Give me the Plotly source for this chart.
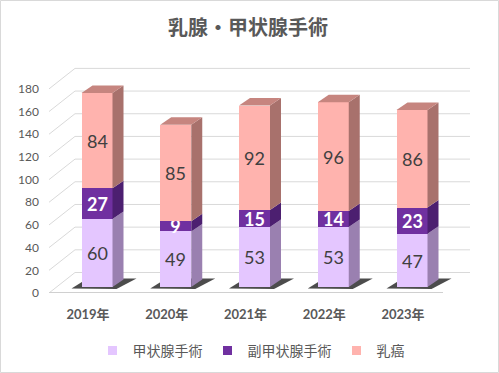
import plotly.graph_objects as go

# ---------------- data ----------------
years = ['2019年', '2020年', '2021年', '2022年', '2023年']
thyroid = [60, 49, 53, 53, 47]          # 甲状腺手術
parathyroid = [27, 9, 15, 14, 23]       # 副甲状腺手術
breast = [84, 85, 92, 96, 86]           # 乳癌
series_names = ['甲状腺手術', '副甲状腺手術', '乳癌']
y_ticks = [0, 20, 40, 60, 80, 100, 120, 140, 160, 180]
title_text = '乳腺・甲状腺手術'

# ---------------- style ----------------
FONT = "Lato, 'Noto Sans CJK JP', sans-serif"
CJK = "'Noto Sans CJK JP', Lato, sans-serif"
TXT = '#595959'
GRID = '#D9D9D9'
front_cols = ['#E4C6FF', '#7030A0', '#FFB3AE']
side_cols = ['#9A80B0', '#4C1F70', '#A8716C']
top_col = '#C6857F'
label_cols = ['#404040', '#FFFFFF', '#404040']
label_weight = ['normal', 'bold', 'normal']

# ---------------- pseudo-3D geometry (pixels) ----------------
W, H = 499, 373
ML, MR, MT, MB = 49, 25, 50, 80
PX_CAT = 78.75        # px per category
C0 = 97.0             # px of first bar centre
K = 1.134             # px per value unit
BAR_BASE = 287.0      # px of bar base (bars stand a bit back)
FRONT_BASE = 293.0    # px of front floor edge
WALL_DX, WALL_DY = 26.0, -20.5
BAR_DX, BAR_DY = 11.0, -7.5
BAR_W_PX = 31.0
FRONT_RIGHT = 443.0
BACK_RIGHT = 470.0

def px_x(px):
    return (px - C0) / PX_CAT

def px_y(py):
    return (BAR_BASE - py) / K

plot_left, plot_right = ML, W - MR
plot_top, plot_bottom = MT, H - MB
xr = [px_x(plot_left), px_x(plot_right)]
yr = [px_y(plot_bottom), px_y(plot_top)]
y2r = [(FRONT_BASE - plot_bottom) / K, (FRONT_BASE - plot_top) / K]

xs = list(range(len(years)))
bw = BAR_W_PX / PX_CAT
ddx = BAR_DX / PX_CAT
ddy = -BAR_DY / K

def path(pts):
    return 'M ' + ' L '.join(f'{a:.4f},{b:.4f}' for a, b in pts) + ' Z'

shapes = []
# gridlines: side wall diagonals + back wall horizontals
for v in y_ticks:
    pf = FRONT_BASE - v * K
    pb = pf + WALL_DY
    shapes.append(dict(type='line', xref='x', yref='y', layer='below',
                       x0=px_x(ML), y0=px_y(pf), x1=px_x(ML + WALL_DX), y1=px_y(pb),
                       line=dict(color=GRID, width=1)))
    shapes.append(dict(type='line', xref='x', yref='y', layer='below',
                       x0=px_x(ML + WALL_DX), y0=px_y(pb), x1=px_x(BACK_RIGHT), y1=px_y(pb),
                       line=dict(color=GRID, width=1)))
# front floor edge
shapes.append(dict(type='line', xref='x', yref='y', layer='below',
                   x0=px_x(ML), y0=px_y(FRONT_BASE - 0.3), x1=px_x(FRONT_RIGHT), y1=px_y(FRONT_BASE - 0.3),
                   line=dict(color='#D0D0D0', width=1.5)))

# shadows under bars
for i in xs:
    L = C0 + i * PX_CAT - BAR_W_PX / 2
    R = L + BAR_W_PX
    B = BAR_BASE
    pts = [(L - 10, B + 1.5), (R + 4, B + 2), (R + 24, B - 8.5), (L + 6, B - 8.5)]
    shapes.append(dict(type='path', xref='x', yref='y', layer='below',
                       path=path([(px_x(a), px_y(b)) for a, b in pts]),
                       fillcolor='rgba(45,45,45,0.85)', line=dict(width=0)))

# side and top faces of each stacked segment
series = [thyroid, parathyroid, breast]
for i in xs:
    base = 0
    R = i + bw / 2
    L = i - bw / 2
    for s, vals in enumerate(series):
        top = base + vals[i]
        shapes.append(dict(type='path', xref='x', yref='y', layer='above',
                           path=path([(R, base), (R + ddx, base + ddy), (R + ddx, top + ddy), (R, top)]),
                           fillcolor=side_cols[s], line=dict(width=0)))
        base = top
    shapes.append(dict(type='path', xref='x', yref='y', layer='above',
                       path=path([(L, base), (L + ddx, base + ddy), (R + ddx, base + ddy), (R, base)]),
                       fillcolor=top_col, line=dict(width=0)))

# chart border
pw = plot_right - plot_left
ph = plot_bottom - plot_top
shapes.append(dict(type='rect', xref='paper', yref='paper', layer='above',
                   x0=(0.5 - ML) / pw, x1=(W - 0.5 - ML) / pw,
                   y0=(plot_bottom - (H - 0.5)) / ph, y1=(plot_bottom - 0.5) / ph,
                   line=dict(color=GRID, width=1), fillcolor='rgba(0,0,0,0)'))

fig = go.Figure()
for s, vals in enumerate(series):
    fig.add_trace(go.Bar(
        x=xs, y=vals, width=bw, name=series_names[s], showlegend=False,
        marker=dict(color=front_cols[s], line=dict(width=0)),
        text=vals, texttemplate='%{text}', textposition='inside',
        insidetextanchor='middle', textangle=0, constraintext='none',
        textfont=dict(family=FONT, size=18, color=label_cols[s], weight=label_weight[s]),
        hoverinfo='skip'))

# legend entries (small square markers) on the tick-label axis
for s in range(3):
    fig.add_trace(go.Scatter(
        x=[None], y=[None], mode='markers', name=series_names[s], yaxis='y2',
        marker=dict(symbol='square', size=9, color=front_cols[s]), showlegend=True))

fig.update_layout(
    width=W, height=H, autosize=False,
    margin=dict(l=ML, r=MR, t=MT, b=MB, pad=0),
    paper_bgcolor='white', plot_bgcolor='white',
    barmode='stack', bargap=0,
    uniformtext=dict(minsize=18, mode='show'),
    font=dict(family=FONT, color=TXT),
    title=dict(text=title_text, x=248 / W, xanchor='center', xref='container',
               y=1 - 28 / H, yanchor='middle', yref='container',
               font=dict(family=CJK, size=20, color=TXT, weight='bold')),
    xaxis=dict(range=xr, tickvals=xs, ticktext=years, showgrid=False, zeroline=False,
               showline=False, ticks='', ticklabelshift=-9, ticklabelstandoff=12,
               tickfont=dict(family=FONT, size=13, color=TXT, weight='bold'), fixedrange=True),
    yaxis=dict(range=yr, showgrid=False, zeroline=False, showline=False,
               showticklabels=False, ticks='', fixedrange=True),
    yaxis2=dict(range=y2r, overlaying='y', side='left', tickvals=y_ticks,
                showgrid=False, zeroline=False, showline=False, ticks='',
                ticklabelstandoff=9,
                tickfont=dict(family=FONT, size=12, color=TXT), fixedrange=True),
    legend=dict(orientation='h', x=251 / W, xanchor='center', xref='container',
                y=1 - 351 / H, yanchor='middle', yref='container', traceorder='normal',
                font=dict(family=CJK, size=14, color=TXT), itemwidth=30,
                bgcolor='rgba(0,0,0,0)'),
    shapes=shapes,
)

fig.write_html('out.html', config={'displayModeBar': False},
               post_script="document.body.style.margin='0';document.body.style.overflow='hidden';")
